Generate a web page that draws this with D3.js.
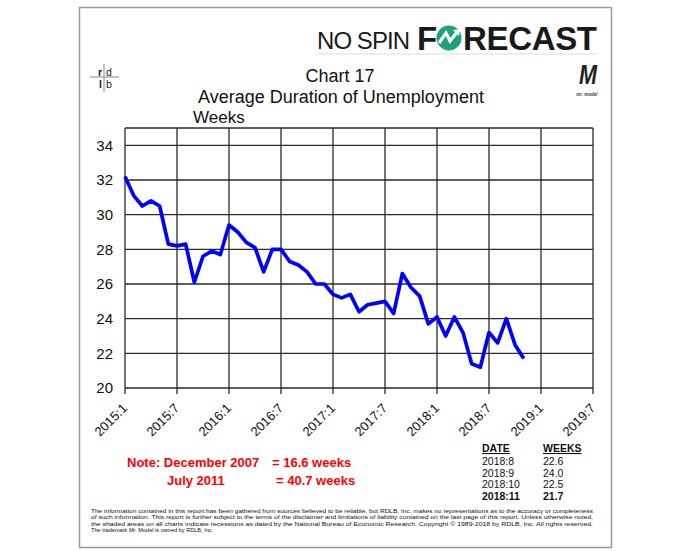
<!DOCTYPE html>
<html>
<head>
<meta charset="utf-8">
<script src="https://cdn.jsdelivr.net/npm/d3@7"></script>
<style>
html,body{margin:0;padding:0;background:#fff;}
svg{display:block;}
text{font-family:"Liberation Sans",Arial,sans-serif;}
</style>
</head>
<body>
<svg id="chart" width="691" height="551"></svg>
<script>
// ---- data ----
const startYear = 2015;
const weeks = [
  32.2, 31.1, 30.5, 30.8, 30.5, 28.3, 28.2, 28.3, 26.1, 27.6, 27.9, 27.7,
  29.4, 29.0, 28.4, 28.1, 26.7, 28.0, 28.0, 27.3, 27.1, 26.7, 26.0, 26.0,
  25.4, 25.2, 25.4, 24.4, 24.8, 24.9, 25.0, 24.3, 26.6, 25.8, 25.3, 23.7,
  24.1, 23.0, 24.1, 23.2, 21.4, 21.2, 23.2, 22.6, 24.0, 22.5, 21.7
];
const xTickLabels = ["2015:1","2015:7","2016:1","2016:7","2017:1","2017:7","2018:1","2018:7","2019:1","2019:7"];
const yTicks = [20, 22, 24, 26, 28, 30, 32, 34];
const tableDates = ["2018:8","2018:9","2018:10","2018:11"];
const tableWeeks = ["22.6","24.0","22.5","21.7"];
const noteLines = [["Note: December 2007", "= 16.6 weeks"], ["July 2011", "= 40.7 weeks"]];
const footerLines = [
  "The information contained in this report has been gathered from sources believed to be reliable, but RDLB, Inc. makes no representations as to the accuracy or completeness",
  "of such information. This report is further subject to the terms of the disclaimer and limitations of liability contained on the last page of this report.  Unless otherwise noted,",
  "the shaded areas on all charts indicate recessions as dated by the National Bureau of Economic Research. Copyright \u00a9 1989-2018  by RDLB, Inc.  All rights reserved.",
  "The trademark Mr. Model is owned by RDLB, Inc."
];

const svg = d3.select("#chart");

// frame
svg.append("rect").attr("x", 79.5).attr("y", 7.5).attr("width", 532).attr("height", 540)
  .attr("fill", "#fff").attr("stroke", "#9a9a9a").attr("stroke-width", 1.5);

// ---- scales ----
const x = d3.scaleLinear().domain([0, 54]).range([125, 593]);
const y = d3.scaleLinear().domain([20, 35]).range([388, 128]);
const tickIdx = xTickLabels.map((d, i) => i * 6);

const g = svg.append("g");
// horizontal grid
g.selectAll(".hg").data(yTicks.concat([35])).enter().append("line")
  .attr("x1", x(0)).attr("x2", x(54))
  .attr("y1", d => y(d)).attr("y2", d => y(d))
  .attr("stroke", "#2a2a2a").attr("stroke-width", 1.3);
// vertical grid (extends below as tick marks)
g.selectAll(".vg").data(tickIdx).enter().append("line")
  .attr("x1", d => x(d)).attr("x2", d => x(d))
  .attr("y1", y(35)).attr("y2", y(20) + 6)
  .attr("stroke", "#2a2a2a").attr("stroke-width", 1.3);

// y labels
svg.selectAll(".yl").data(yTicks).enter().append("text")
  .attr("x", 113).attr("y", d => y(d)).attr("dy", "0.36em")
  .attr("text-anchor", "end").attr("font-size", 15).attr("fill", "#111")
  .text(d => d);

// x labels rotated
svg.selectAll(".xl").data(xTickLabels).enter().append("text")
  .attr("transform", (d, i) => `translate(${x(i * 6) + 3},${y(20) + 21}) rotate(-45)`)
  .attr("text-anchor", "end").attr("font-size", 13).attr("fill", "#111")
  .text(d => d);

// line
const line = d3.line().x((d, i) => x(i)).y(d => y(d));
svg.append("path").datum(weeks).attr("d", line)
  .attr("fill", "none").attr("stroke", "#0000ff").attr("stroke-width", 3.7)
  .attr("stroke-linejoin", "round");

// titles
svg.append("text").attr("x", 340).attr("y", 82).attr("text-anchor", "middle")
  .attr("font-size", 18).attr("fill", "#111").text("Chart 17");
svg.append("text").attr("x", 341).attr("y", 103).attr("text-anchor", "middle")
  .attr("font-size", 18).attr("fill", "#111").text("Average Duration of Unemployment");
svg.append("text").attr("x", 193).attr("y", 123)
  .attr("font-size", 17).attr("fill", "#111").text("Weeks");

// header logo "NO SPIN FORECAST"
svg.append("text").attr("x", 317).attr("y", 49).attr("font-family", "'Open Sans',sans-serif")
  .attr("font-size", 24).attr("fill", "#1a1a1a").attr("textLength", 93).text("NO SPIN");
svg.append("text").attr("x", 417).attr("y", 50).attr("font-family", "'Roboto','DejaVu Sans',sans-serif")
  .attr("font-weight", 900).attr("font-size", 33).attr("fill", "#1a1a1a").text("F");
svg.append("circle").attr("cx", 449).attr("cy", 38).attr("r", 12.5).attr("fill", "#1aa37a");
svg.append("path").attr("d", "M439,43 L446,33 L450,41 L458,31")
  .attr("fill", "none").attr("stroke", "#fff").attr("stroke-width", 3.2).attr("stroke-linejoin", "miter");
svg.append("path").attr("d", "M453,30 L460,29 L459,36 Z").attr("fill", "#fff");
svg.append("text").attr("x", 463).attr("y", 50).attr("font-family", "'Roboto','DejaVu Sans',sans-serif")
  .attr("font-weight", 900).attr("font-size", 33).attr("fill", "#1a1a1a").attr("textLength", 134).text("RECAST");
svg.append("line").attr("x1", 317).attr("x2", 597).attr("y1", 54).attr("y2", 54)
  .attr("stroke", "#e8e8e8").attr("stroke-width", 1.5);

// rdlb logo
svg.append("line").attr("x1", 90).attr("x2", 119).attr("y1", 77).attr("y2", 77).attr("stroke", "#999").attr("stroke-width", 1.2);
svg.append("line").attr("x1", 104).attr("x2", 104).attr("y1", 64).attr("y2", 92).attr("stroke", "#999").attr("stroke-width", 1.2);
[["r", 98, 76, "bold"], ["d", 106, 76, "normal"], ["l", 99, 88, "bold"], ["b", 106, 88, "normal"]].forEach(t => {
  svg.append("text").attr("x", t[1]).attr("y", t[2]).attr("font-size", 10.5).attr("font-weight", t[3])
    .attr("fill", "#222").text(t[0]);
});

// Mr. Model logo
svg.append("text").attr("x", 588).attr("y", 84).attr("text-anchor", "middle")
  .attr("font-size", 27).attr("font-weight", "bold").attr("font-style", "italic")
  .attr("fill", "#222").attr("transform", "translate(588,84) scale(0.8,1.05) translate(-588,-84)").text("M");
svg.append("text").attr("x", 587).attr("y", 96).attr("text-anchor", "middle")
  .attr("font-size", 4.5).attr("font-style", "italic").attr("font-weight", "bold").attr("fill", "#444").text("mr. model");

// note
const note = svg.append("g").attr("fill", "#ff0000").attr("font-weight", "bold").attr("font-size", 13);
note.append("text").attr("x", 127).attr("y", 467).text(noteLines[0][0]);
note.append("text").attr("x", 272).attr("y", 467).text(noteLines[0][1]);
note.append("text").attr("x", 167).attr("y", 485).text(noteLines[1][0]);
note.append("text").attr("x", 276).attr("y", 485).text(noteLines[1][1]);

// data table
const tbl = svg.append("g").attr("font-size", 10.5).attr("fill", "#111");
tbl.append("text").attr("x", 482).attr("y", 452).attr("font-weight", "bold").attr("text-decoration", "underline").text("DATE");
tbl.append("text").attr("x", 543).attr("y", 452).attr("font-weight", "bold").attr("text-decoration", "underline").text("WEEKS");
tableDates.forEach((d, i) => {
  const bold = i === tableDates.length - 1 ? "bold" : "normal";
  tbl.append("text").attr("x", 482).attr("y", 465 + i * 11.5).attr("font-weight", bold).text(d);
  tbl.append("text").attr("x", 543).attr("y", 465 + i * 11.5).attr("font-weight", bold).text(tableWeeks[i]);
});

// footer
const ft = svg.append("g").attr("font-size", 5.6).attr("fill", "#111");
footerLines.forEach((l, i) => {
  const t = ft.append("text").attr("x", 91).attr("y", 513 + i * 6.4).text(l);
  if (i < 3) t.attr("textLength", 502).attr("lengthAdjust", "spacingAndGlyphs");
});
</script>
</body>
</html>
